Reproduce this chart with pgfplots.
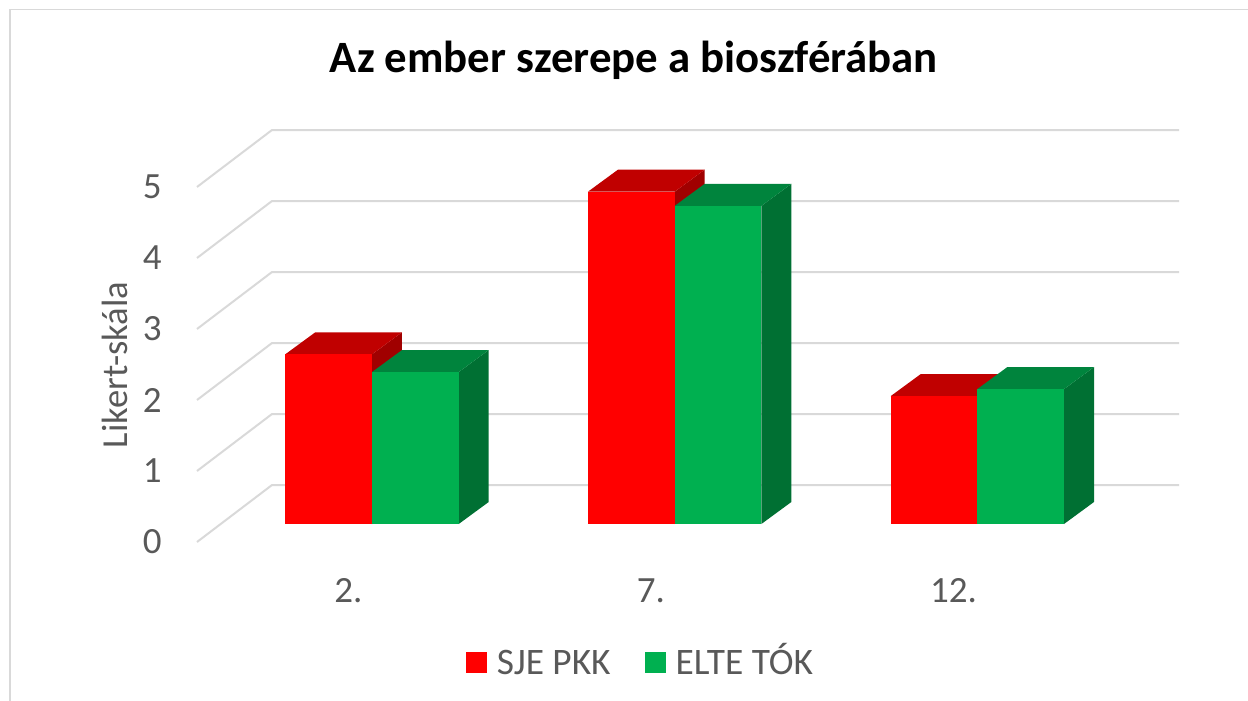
\documentclass[border=0pt]{standalone}
\usepackage{pgfplots}
\pgfplotsset{compat=1.18}
\usepackage{fontspec}
\setmainfont{Carlito}
\definecolor{txt}{HTML}{595959}
\definecolor{grd}{HTML}{D9D9D9}
\definecolor{rF}{HTML}{FF0000}
\definecolor{rT}{HTML}{C00000}
\definecolor{rS}{HTML}{A00000}
\definecolor{gF}{HTML}{00B050}
\definecolor{gT}{HTML}{00843D}
\definecolor{gS}{HTML}{007033}
\begin{document}
\begin{tikzpicture}
\useasboundingbox (0,0) rectangle (624pt,-350.5pt);
\draw[grd, line width=0.7pt] (5pt,-350.5pt) -- (5pt,-4.7pt) -- (624pt,-4.7pt);
\begin{axis}[
  at={(98.5pt,-271pt)}, anchor=south west,
  scale only axis, width=491pt, height=206pt,
  xmin=-0.5782, xmax=2.6665, ymin=-0.2535, ymax=5.549,
  clip=false,
  axis line style={draw=none}, tick style={draw=none},
  /pgf/number format/assume math mode=true,
  xtick={-0.0783,0.9217,1.9217}, xticklabels={2.,7.,12.},
  ytick={-0.2535,0.7465,1.7465,2.7465,3.7465,4.7465},
  yticklabels={0,1,2,3,4,5},
  ticklabel style={font=\fontsize{18.5}{22}\selectfont, text=txt, inner sep=0pt},
  xticklabel style={anchor=base, yshift=-30pt},
  yticklabel style={anchor=east, xshift=-17.5pt},
  ylabel={Likert-skála},
  ylabel style={at={(axis description cs:-0.0835,0.4296)}, anchor=center, font=\fontsize{18.3}{22}\selectfont, text=txt, inner sep=0pt},
  title={Az ember szerepe a bioszférában},
  every axis title shift=0pt,
  title style={at={(axis description cs:0.445,1.1408)}, anchor=base, font=\fontsize{22.4}{27}\selectfont\bfseries, inner sep=0pt},
  legend style={at={(axis description cs:0.4506,-0.2925)}, anchor=center, draw=none, fill=none,
    inner sep=0pt, legend columns=2, font=\fontsize{18.7}{22}\selectfont,
    nodes={inner sep=0pt, text=txt, text height=12pt, text depth=0pt},
    /tikz/column sep=5pt,
    /tikz/every even column/.append style={column sep=17pt}},
  legend image code/.code={\fill[#1] (0pt,-5.25pt) rectangle (10.5pt,5.25pt);},
]
% gridlines (back wall + left wall)
\addplot[grd, line width=1pt, forget plot] coordinates {(-0.5782,-0.2535) (-0.3304,0.549) (2.6665,0.549)};
\addplot[grd, line width=1pt, forget plot] coordinates {(-0.5782,0.7465) (-0.3304,1.549) (2.6665,1.549)};
\addplot[grd, line width=1pt, forget plot] coordinates {(-0.5782,1.7465) (-0.3304,2.549) (2.6665,2.549)};
\addplot[grd, line width=1pt, forget plot] coordinates {(-0.5782,2.7465) (-0.3304,3.549) (2.6665,3.549)};
\addplot[grd, line width=1pt, forget plot] coordinates {(-0.5782,3.7465) (-0.3304,4.549) (2.6665,4.549)};
\addplot[grd, line width=1pt, forget plot] coordinates {(-0.5782,4.7465) (-0.3304,5.549) (2.6665,5.549)};
% category 2.
\addplot[fill=rS, draw=none, forget plot] coordinates {(0,0) (0.0991,0.31) (0.0991,2.70) (0,2.39)} -- cycle;
\addplot[fill=rT, draw=none, forget plot] coordinates {(-0.2865,2.39) (0,2.39) (0.0991,2.70) (-0.1874,2.70)} -- cycle;
\addplot[fill=rF, draw=none, forget plot] coordinates {(-0.2865,0) (0,0) (0,2.39) (-0.2865,2.39)} -- cycle;
\addplot[fill=gS, draw=none, forget plot] coordinates {(0.2865,0) (0.3856,0.31) (0.3856,2.45) (0.2865,2.14)} -- cycle;
\addplot[fill=gT, draw=none, forget plot] coordinates {(0,2.14) (0.2865,2.14) (0.3856,2.45) (0.0991,2.45)} -- cycle;
\addplot[fill=gF, draw=none, forget plot] coordinates {(0,0) (0.2865,0) (0.2865,2.14) (0,2.14)} -- cycle;
% category 7.
\addplot[fill=rS, draw=none, forget plot] coordinates {(1,0) (1.0991,0.31) (1.0991,4.99) (1,4.68)} -- cycle;
\addplot[fill=rT, draw=none, forget plot] coordinates {(0.7135,4.68) (1,4.68) (1.0991,4.99) (0.8126,4.99)} -- cycle;
\addplot[fill=rF, draw=none, forget plot] coordinates {(0.7135,0) (1,0) (1,4.68) (0.7135,4.68)} -- cycle;
\addplot[fill=gS, draw=none, forget plot] coordinates {(1.2865,0) (1.3856,0.31) (1.3856,4.79) (1.2865,4.48)} -- cycle;
\addplot[fill=gT, draw=none, forget plot] coordinates {(1,4.48) (1.2865,4.48) (1.3856,4.79) (1.0991,4.79)} -- cycle;
\addplot[fill=gF, draw=none, forget plot] coordinates {(1,0) (1.2865,0) (1.2865,4.48) (1,4.48)} -- cycle;
% category 12.
\addplot[fill=rS, draw=none, forget plot] coordinates {(2,0) (2.0991,0.31) (2.0991,2.11) (2,1.80)} -- cycle;
\addplot[fill=rT, draw=none, forget plot] coordinates {(1.7135,1.80) (2,1.80) (2.0991,2.11) (1.8126,2.11)} -- cycle;
\addplot[fill=rF, draw=none, forget plot] coordinates {(1.7135,0) (2,0) (2,1.80) (1.7135,1.80)} -- cycle;
\addplot[fill=gS, draw=none, forget plot] coordinates {(2.2865,0) (2.3856,0.31) (2.3856,2.21) (2.2865,1.90)} -- cycle;
\addplot[fill=gT, draw=none, forget plot] coordinates {(2,1.90) (2.2865,1.90) (2.3856,2.21) (2.0991,2.21)} -- cycle;
\addplot[fill=gF, draw=none, forget plot] coordinates {(2,0) (2.2865,0) (2.2865,1.90) (2,1.90)} -- cycle;
% legend
\addlegendimage{fill=rF, draw=none}
\addlegendentry{SJE PKK}
\addlegendimage{fill=gF, draw=none}
\addlegendentry{ELTE TÓK}
\end{axis}
\end{tikzpicture}
\end{document}
